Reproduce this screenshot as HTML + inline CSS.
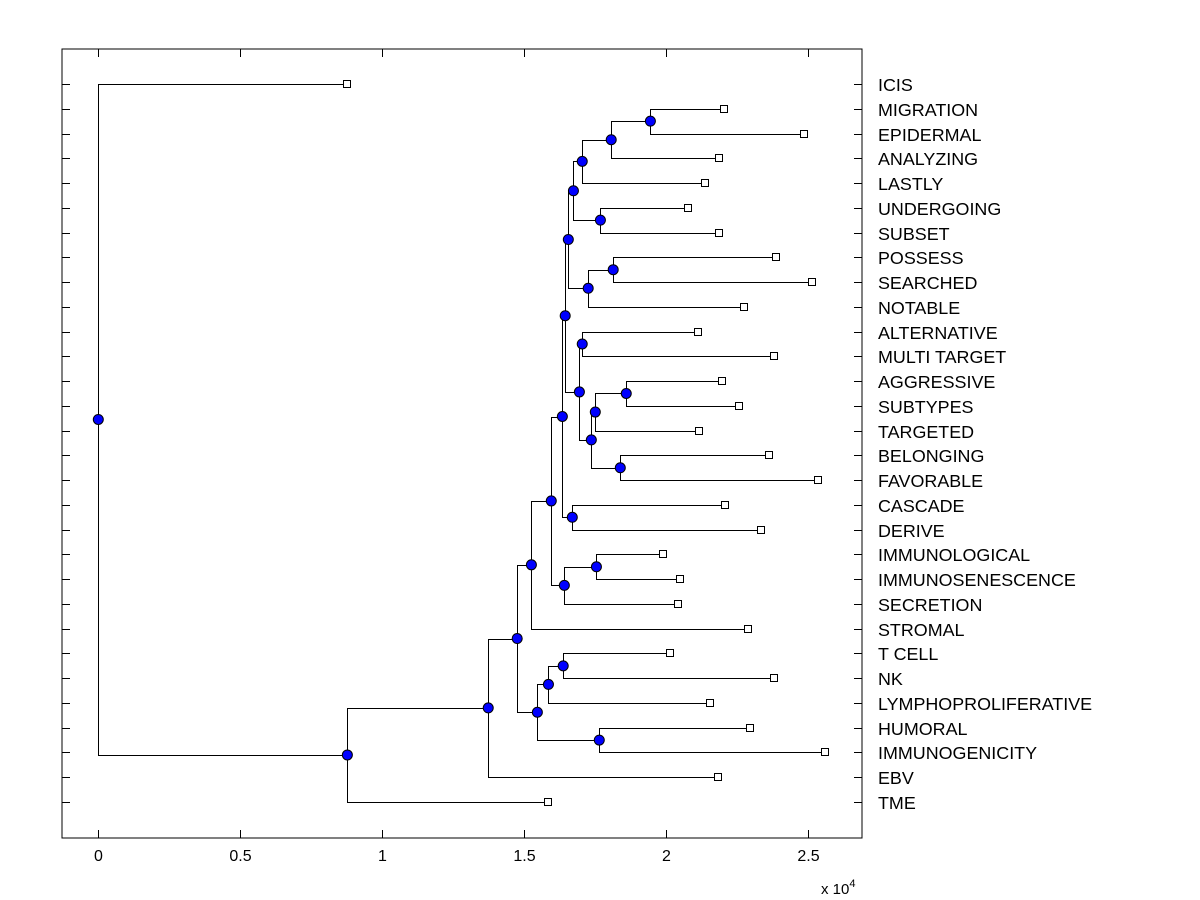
<!DOCTYPE html>
<html><head><meta charset="utf-8"><style>
html,body{margin:0;padding:0;background:#fff;}
svg{display:block;font-family:"Liberation Sans",Arial,sans-serif;}
</style></head><body>
<svg id="chart" width="1200" height="900" xmlns="http://www.w3.org/2000/svg"></svg>
<script>
const labels = ["ICIS","MIGRATION","EPIDERMAL","ANALYZING","LASTLY","UNDERGOING","SUBSET","POSSESS","SEARCHED","NOTABLE","ALTERNATIVE","MULTI TARGET","AGGRESSIVE","SUBTYPES","TARGETED","BELONGING","FAVORABLE","CASCADE","DERIVE","IMMUNOLOGICAL","IMMUNOSENESCENCE","SECRETION","STROMAL","T CELL","NK","LYMPHOPROLIFERATIVE","HUMORAL","IMMUNOGENICITY","EBV","TME"];
const leafValues = [8770,22040,24860,21870,21370,20770,21870,23870,25140,22750,21130,23800,21970,22570,21160,23630,25350,22080,23350,19890,20490,20420,22890,20140,23800,21550,22960,25600,21830,15850];
// internal nodes: [childA, childB, height]; leaves are 0..29, internal nodes are 30+
const merges = [
 [1,2,19440],[30,3,18060],[31,4,17040],[5,6,17680],[32,33,16730],
 [7,8,18130],[35,9,17250],[34,36,16550],[10,11,17040],[12,13,18590],
 [39,14,17500],[15,16,18380],[40,41,17360],[38,42,16940],[37,43,16440],
 [17,18,16690],[44,45,16340],[19,20,17540],[47,21,16410],[46,48,15950],
 [49,22,15250],[23,24,16370],[51,25,15850],[26,27,17640],[52,53,15460],
 [50,54,14750],[55,28,13730],[56,29,8770],[0,57,0]
];
const xTicks = [0,5000,10000,15000,20000,25000];
const xTickLabels = ["0","0.5","1","1.5","2","2.5"];

const NS="http://www.w3.org/2000/svg";
const svg=document.getElementById('chart');
const L=62,R=862,T=49,B=838;
const xs=v=>98.3+v*0.0284;
const ys=i=>84+i*(802-84)/(labels.length-1);
function mk(tag,attrs,parent){const e=document.createElementNS(NS,tag);for(const k in attrs)e.setAttribute(k,attrs[k]);(parent||svg).appendChild(e);return e;}

const axes=mk('g',{});


const box=mk('rect',{x:L,y:T,width:R-L,height:B-T,fill:'none',stroke:'#000','stroke-width':1,'shape-rendering':'crispEdges'},axes);


xTicks.forEach((t,i)=>{
  const x=Math.round(xs(t))+0.5;
  mk('line',{x1:x,x2:x,y1:B,y2:B-8,stroke:'#000'},axes);
  mk('line',{x1:x,x2:x,y1:T,y2:T+8,stroke:'#000'},axes);
  const tx=mk('text',{x:x,y:B+23,'font-size':16,'text-anchor':'middle'},axes);
  tx.textContent=xTickLabels[i];
  
  
});
const ex=mk('text',{x:821,y:894,'font-size':15},axes);
ex.innerHTML='x 10<tspan dy="-7" font-size="11">4</tspan>';


labels.forEach((lab,i)=>{
  const y=Math.round(ys(i))+0.5;
  mk('line',{x1:L,x2:L+8,y1:y,y2:y,stroke:'#000'},axes);
  mk('line',{x1:R,x2:R-8,y1:y,y2:y,stroke:'#000'},axes);
  const t=mk('text',{x:878,y:y+6.5,'font-size':17.9},axes);
  t.textContent=lab;
  
  
});

const nx=[],ny=[];
leafValues.forEach((v,i)=>{nx[i]=xs(v);ny[i]=ys(i);});
const links=mk('g',{stroke:'#000','stroke-width':1,fill:'none'});


merges.forEach((m,k)=>{
  const id=labels.length+k;
  const x=xs(m[2]);
  nx[id]=x; ny[id]=(ny[m[0]]+ny[m[1]])/2;
  const X=Math.round(x)+0.5,ya=Math.round(ny[m[0]])+0.5,yb=Math.round(ny[m[1]])+0.5;
  const p=mk('path',{d:`M${Math.round(nx[m[0]])+0.5},${ya}H${X}V${yb}H${Math.round(nx[m[1]])+0.5}`},links);
  
  
});
merges.forEach((m,k)=>{
  const id=labels.length+k;
  const c=mk('circle',{cx:nx[id],cy:ny[id],r:5,fill:'#0000ff',stroke:'#000','stroke-width':1});
  
  
});
leafValues.forEach((v,i)=>{
  const r=mk('rect',{x:Math.round(nx[i])-3.5,y:Math.round(ny[i])-3.5,width:7,height:7,fill:'#fff',stroke:'#000','stroke-width':1});
  
  
});
</script>
</body></html>
